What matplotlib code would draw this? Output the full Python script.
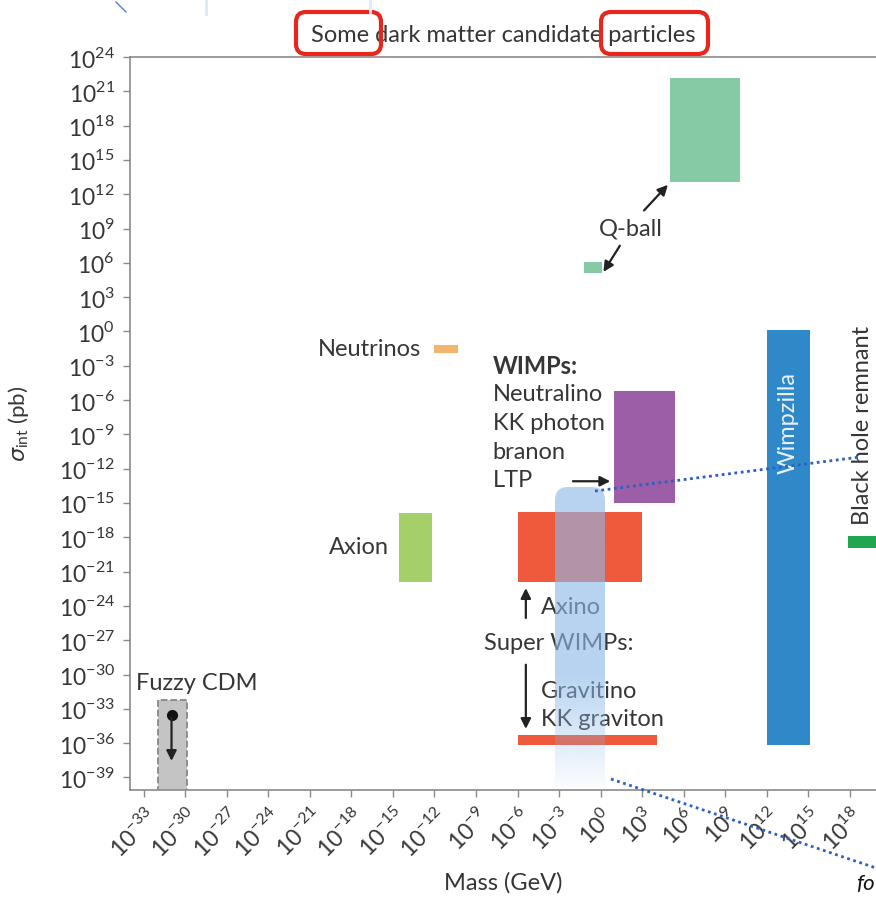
import numpy as np
import matplotlib
matplotlib.use("Agg")
import matplotlib.pyplot as plt
from matplotlib.patches import Rectangle, FancyBboxPatch

plt.rcParams['font.family'] = ['Lato', 'DejaVu Sans']
plt.rcParams['mathtext.fontset'] = 'custom'
plt.rcParams['mathtext.rm'] = 'Lato'
plt.rcParams['mathtext.it'] = 'DejaVu Sans:italic'
plt.rcParams['mathtext.bf'] = 'Lato:bold'

# ---------------- data (log10 values) ----------------
box_names = ['Q-ball (heavy)', 'Q-ball (light)', 'Neutrinos', 'Axion', 'WIMPs',
             'Axino', 'Gravitino / KK graviton', 'Wimpzilla', 'Black hole remnant', 'Fuzzy CDM']
mass_lo_exp = [5.0, -1.2, -12.0, -14.6, 1.0, -6.0, -6.0, 12.0, 17.9, -32.0]
mass_hi_exp = [10.1, 0.1, -10.3, -12.2, 5.4, 3.0, 4.1, 15.1, 21.0, -29.9]
sigma_lo_exp = [13.1, 5.1, -1.9, -21.9, -15.0, -21.9, -36.2, -36.2, -18.9, -40.5]
sigma_hi_exp = [22.2, 6.1, -1.2, -15.9, -5.2, -15.8, -35.3, 0.1, -17.9, -32.2]
box_colors = ['#86c9a5', '#86c9a5', '#f2b56c', '#a5cf68', '#9c5fa7',
              '#ee5a3b', '#ee5a3b', '#2f88c8', '#1fa64e', '#c4c4c4']

x_tick_exp = list(range(-33, 19, 3))
y_tick_exp = list(range(-39, 25, 3))

fuzzy_dot = (-31.0, -33.5)
fuzzy_arrow_end = -37.8

text_col = '#363636'
spine_col = '#8a8a8a'

fig = plt.figure(figsize=(8.76, 8.97), dpi=100)
W, H = 876, 897
ax_l, ax_r, ax_t, ax_b = 130, 876, 57, 790
ax = fig.add_axes([ax_l / W, 1 - ax_b / H, (ax_r - ax_l) / W, (ax_b - ax_t) / H])
ax.set_xscale('log')
ax.set_yscale('log')
ax.set_xlim(1e-34, 10 ** 19.9)
ax.set_ylim(10 ** -40.1, 10 ** 23.8)

tfs = 16.5
ax.set_xticks([10.0 ** e for e in x_tick_exp])
ax.set_xticklabels([r'$10^{%d}$' % e for e in x_tick_exp], rotation=45, ha='right',
                   rotation_mode='anchor', fontsize=tfs, color=text_col)
ax.set_yticks([10.0 ** e for e in y_tick_exp])
ax.set_yticklabels([r'$10^{%d}$' % e for e in y_tick_exp], fontsize=tfs, color=text_col)
ax.minorticks_off()
ax.tick_params(axis='both', color=spine_col, length=5, width=1)
ax.tick_params(axis='y', pad=6)
ax.tick_params(axis='x', pad=5)
for s in ['left', 'bottom', 'top']:
    ax.spines[s].set_color(spine_col)
    ax.spines[s].set_linewidth(1.2)
ax.spines['right'].set_visible(False)

fs = 17
ax.set_xlabel('Mass (GeV)', fontsize=fs, color=text_col, labelpad=8)
ax.set_ylabel(r'$\sigma_{\rm int}$ (pb)', fontsize=16, color=text_col, labelpad=20)
ax.set_title('Some dark matter candidate particles', fontsize=fs, color=text_col, pad=11)

# boxes
for i, name in enumerate(box_names):
    x0, x1 = 10 ** mass_lo_exp[i], 10 ** mass_hi_exp[i]
    y0, y1 = 10 ** sigma_lo_exp[i], 10 ** sigma_hi_exp[i]
    if name == 'Fuzzy CDM':
        r = Rectangle((x0, y0), x1 - x0, y1 - y0, facecolor=box_colors[i],
                      edgecolor='#888888', linestyle='--', linewidth=1.3, zorder=2)
    else:
        r = Rectangle((x0, y0), x1 - x0, y1 - y0, facecolor=box_colors[i],
                      edgecolor='none', zorder=2)
    ax.add_patch(r)

arrow_kw = dict(arrowstyle='-|>', color='#222222', lw=1.6, mutation_scale=15)
# Q-ball
ax.text(10 ** 2.2, 10 ** 9.0, 'Q-ball', fontsize=fs, color=text_col, ha='center', va='center')
ax.annotate('', xy=(10 ** 5.0, 10 ** 13.0), xytext=(10 ** 3.0, 10 ** 10.4), arrowprops=arrow_kw)
ax.annotate('', xy=(10 ** 0.1, 10 ** 5.0), xytext=(10 ** 1.5, 10 ** 7.7), arrowprops=arrow_kw)
# Neutrinos / Axion
ax.text(10 ** -13.0, 10 ** -1.55, 'Neutrinos', fontsize=fs, color=text_col, ha='right', va='center')
ax.text(10 ** -15.3, 10 ** -18.9, 'Axion', fontsize=fs, color=text_col, ha='right', va='center')
# WIMPs
ax.text(10 ** -7.8, 10 ** -3.1, 'WIMPs:', fontsize=fs, color=text_col, ha='left', va='center',
        fontweight='bold')
wimp_lines = ['Neutralino', 'KK photon', 'branon', 'LTP']
for k, t in enumerate(wimp_lines):
    ax.text(10 ** -7.8, 10 ** (-5.55 - 2.5 * k), t, fontsize=fs, color=text_col,
            ha='left', va='center')
ax.annotate('', xy=(10 ** 0.9, 10 ** -13.1), xytext=(10 ** -2.2, 10 ** -13.1), arrowprops=arrow_kw)
# Super WIMPs
ax.text(10 ** -4.3, 10 ** -24.1, 'Axino', fontsize=fs, color=text_col, ha='left', va='center')
ax.text(10 ** -8.4, 10 ** -27.3, 'Super WIMPs:', fontsize=fs, color=text_col, ha='left', va='center')
ax.text(10 ** -4.3, 10 ** -31.5, 'Gravitino', fontsize=fs, color=text_col, ha='left', va='center')
ax.text(10 ** -4.3, 10 ** -33.95, 'KK graviton', fontsize=fs, color=text_col, ha='left', va='center')
ax.annotate('', xy=(10 ** -5.4, 10 ** -22.2), xytext=(10 ** -5.4, 10 ** -25.3), arrowprops=arrow_kw)
ax.annotate('', xy=(10 ** -5.4, 10 ** -35.0), xytext=(10 ** -5.4, 10 ** -28.9), arrowprops=arrow_kw)
# Wimpzilla
ax.text(10 ** 13.55, 10 ** -8.0, 'Wimpzilla', fontsize=fs, color='#e8f1fa', ha='center',
        va='center', rotation=90)
# Black hole remnant
ax.text(10 ** 18.95, 10 ** -16.9, 'Black hole remnant', fontsize=fs, color=text_col, ha='center',
        va='bottom', rotation=90)
# Fuzzy CDM
ax.text(10 ** -29.2, 10 ** -30.8, 'Fuzzy CDM', fontsize=fs, color=text_col, ha='center', va='center')
ax.plot([10 ** fuzzy_dot[0]], [10 ** fuzzy_dot[1]], 'o', color='#111111', ms=7, zorder=4)
ax.annotate('', xy=(10 ** fuzzy_dot[0], 10 ** fuzzy_arrow_end),
            xytext=(10 ** fuzzy_dot[0], 10 ** fuzzy_dot[1]), arrowprops=arrow_kw, zorder=4)

# ---------------- overlay annotations (screenshot markup) ----------------
ov = fig.add_axes([0, 0, 1, 1], zorder=10)
ov.set_xlim(0, W)
ov.set_ylim(H, 0)
ov.axis('off')
ov.patch.set_alpha(0)

bar = FancyBboxPatch((555, 487), 50, 320, boxstyle='round,pad=0,rounding_size=13',
                     facecolor='none', edgecolor='none')
ov.add_patch(bar)
grad_y = np.linspace(0, 1, 200)
alpha = np.clip(0.62 - np.clip((grad_y - 0.62) / 0.38, 0, 1) * 0.6, 0, 1)
img = np.zeros((200, 2, 4))
img[..., 0] = 140 / 255
img[..., 1] = 185 / 255
img[..., 2] = 232 / 255
img[..., 3] = alpha[:, None]
im = ov.imshow(img, extent=[555, 605, 790, 487], aspect='auto', interpolation='bilinear')
im.set_clip_path(bar)
ov.set_xlim(0, W)
ov.set_ylim(H, 0)

ov.plot([595, 860], [491, 457], color='#2b5fc4', lw=2, linestyle=(0, (1, 1.3)))
ov.plot([611, 876], [779, 868], color='#2b5fc4', lw=2, linestyle=(0, (1, 1.3)))
ov.text(856, 894, 'fo', fontsize=16, style='italic', color='#111111', ha='left', va='bottom')

for (x0, x1) in [(296, 381), (601, 708)]:
    ov.add_patch(FancyBboxPatch((x0, 12), x1 - x0, 42, boxstyle='round,pad=0,rounding_size=10',
                                facecolor='none', edgecolor='#e8261c', linewidth=3))

ov.plot([116, 126], [2, 12], color='#5b7fd0', lw=1)
ov.plot([206, 206], [0, 14], color='#dfe8f5', lw=2)
ov.plot([370, 370], [0, 12], color='#dfe8f5', lw=2)

fig.savefig('out.png', dpi=100)
